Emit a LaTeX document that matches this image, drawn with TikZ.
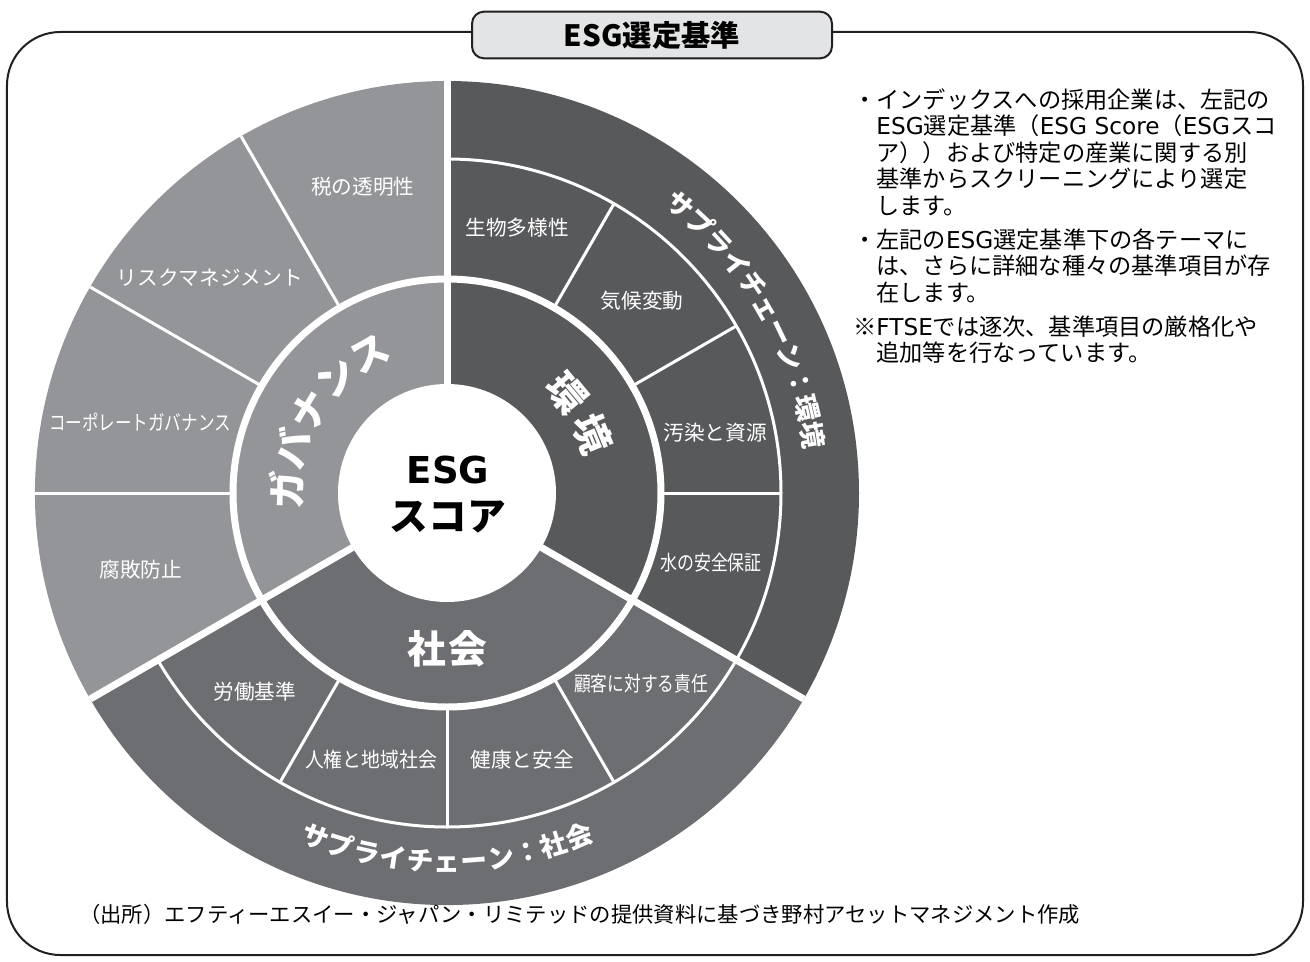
\documentclass[tikz,border=0pt]{standalone}
\usepackage{fontspec}
\setmainfont{Noto Sans CJK JP}
\newfontfamily\latinfont{DejaVu Sans}
\usetikzlibrary{positioning}

\definecolor{govgray}{HTML}{939598}
\definecolor{envgray}{HTML}{58595B}
\definecolor{socgray}{HTML}{6D6E71}
\definecolor{framegray}{HTML}{231F20}
\definecolor{titlefill}{HTML}{E3E4E5}

% characters set one by one round the centre
% [style] prefix, radius, first angle, step, turn, characters
\newcommand{\ringtext}[7][]{%
  \foreach \ch [count=\idx] in {#7} {%
    \pgfmathsetmacro{\ang}{#4+(\idx-1)*(#5)}%
    \node[#1, rotate=\ang+(#6)] (#2-\idx) at (\ang:#3) {\ch};
  }}

\begin{document}
\begin{tikzpicture}[x=0.75pt, y=0.75pt,
    gap/.style={draw=white, line width=5.25pt},
    seam/.style={draw=white, line width=2.25pt},
    theme/.style={text=white, inner sep=0pt, font=\fontsize{29}{29}\selectfont\bfseries,
      text height=25.5pt, text depth=3.5pt},
    chain/.style={text=white, inner sep=0pt, font=\fontsize{20}{20}\selectfont\bfseries,
      text height=17.6pt, text depth=2.4pt},
    sub/.style={text=white, inner sep=0pt, font=\fontsize{15.5}{15.5}\selectfont},
    note/.style={inner sep=0pt, align=left, font=\fontsize{17.4}{19.9}\selectfont}
  ]
    \useasboundingbox (-447,-468) rectangle (863,493);

    % Frame and title
    \draw[framegray, line width=1.5pt, rounded corners=40pt] (-440,-462) rectangle (856,461);
    \node[draw=framegray, fill=titlefill, line width=1.5pt, rounded corners=9pt,
      minimum width=270pt, minimum height=35pt, font=\fontsize{22}{22}\selectfont\bfseries]
      (title) at (205,458) {ESG選定基準};

    % Sectors
    \fill[envgray] (0,0) -- (90:412) arc[start angle=90, end angle=-30, radius=412] -- cycle;
    \fill[socgray] (0,0) -- (-30:412) arc[start angle=-30, end angle=-150, radius=412] -- cycle;
    \fill[govgray] (0,0) -- (210:412) arc[start angle=210, end angle=90, radius=412] -- cycle;

    % Thin seams between themes
    \draw[seam] (90:334) arc[start angle=90, end angle=-150, radius=334];
    \foreach \a in {60,30,0,-60,-90,-120}
      \draw[seam] (\a:214) -- (\a:334);
    \foreach \a in {120,150,180}
      \draw[seam] (\a:214) -- (\a:412);

    % Wide gaps between pillars
    \draw[gap] (0,0) circle[radius=214];
    \foreach \a in {90,-30,210}
      \draw[gap] (\a:109) -- (\a:412);
    \fill[white] (0,0) circle[radius=109];

    % Centre
    \node[font=\latinfont\fontsize{27.8}{27.8}\selectfont\bfseries] (esg) at (1,23) {ESG};
    \node[font=\fontsize{29}{29}\selectfont\bfseries] (score) at (1,-24) {スコア};

    % Pillars
    \ringtext[theme]{env}{157}{39.8}{-17.5}{-90}{環,境}
    \ringtext[theme]{gov}{160}{179}{-15}{-90}{ガ,バ,ナ,ン,ス}
    \node[theme] (soc) at (0,-156) {社\hspace{1.7pt}会};

    % Supply chain rings
    \ringtext[chain]{envchain}{370}{51}{-4.2}{-90}{サ,プ,ラ,イ,チ,ェ,ー,ン,：,環,境}
    \ringtext[chain]{socchain}{368}{-111}{4.2}{90}{サ,プ,ラ,イ,チ,ェ,ー,ン,：,社,会}

    % Themes
    \node[sub] (biodiv)    at (70,265)   {生物多様性};
    \node[sub] (climate)   at (195,192)  {気候変動};
    \node[sub] (pollution) at (268,60)   {汚染と資源};
    \node[sub] (water)     at (264,-70)  {\scalebox{0.82}[1]{水の安全保証}};
    \node[sub] (customer)  at (194,-191) {\scalebox{0.81}[1]{顧客に対する責任}};
    \node[sub] (health)    at (75,-267)  {健康と安全};
    \node[sub] (rights)    at (-76,-267) {\scalebox{0.91}[1]{人権と地域社会}};
    \node[sub] (labour)    at (-192,-199) {労働基準};
    \node[sub] (tax)       at (-84,306)  {税の透明性};
    \node[sub] (risk)      at (-237,215) {リスクマネジメント};
    \node[sub] (corpgov)   at (-307,71)  {\scalebox{0.8}[1]{コーポレートガバナンス}};
    \node[sub] (anticorr)  at (-306,-77) {腐敗防止};

    % Notes on the right
    \node[note, anchor=north west] (notes) at (406,405)
      {・インデックスへの採用企業は、左記の\\
       \hphantom{・}{\latinfont ESG}選定基準（{\latinfont ESG Score}（{\latinfont ESG}スコ\\
       \hphantom{・}ア））および特定の産業に関する別\\
       \hphantom{・}基準からスクリーニングにより選定\\
       \hphantom{・}します。\\[5.6pt]
       ・左記の{\latinfont ESG}選定基準下の各テーマに\\
       \hphantom{・}は、さらに詳細な種々の基準項目が存\\
       \hphantom{・}在します。\\[5.6pt]
       ※{\latinfont FTSE}では逐次、基準項目の厳格化や\\
       \hphantom{・}追加等を行なっています。};

    % Source
    \node[anchor=base west, inner sep=0pt, font=\fontsize{16}{16}\selectfont] (source) at (-368,-429)
      {（出所）エフティーエスイー・ジャパン・リミテッドの提供資料に基づき野村アセットマネジメント作成};
\end{tikzpicture}
\end{document}
